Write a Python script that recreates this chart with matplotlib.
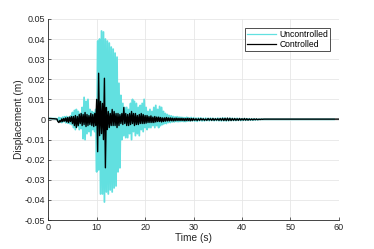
import numpy as np
import matplotlib
matplotlib.use("Agg")
import matplotlib.pyplot as plt

plt.rcParams['font.family'] = ['Liberation Sans', 'DejaVu Sans']

# displacement peaks in mm
# 0 - 30 s every 0.2 s, 30 - 45 s every 0.25 s, 45 - 60 s every 5 s
dt_a = 0.2
dt_b = 0.25
dt_c = 5.0

uncontrolled_a = [
    0.5, 0.5, 0.5, 0.4, 0.5, 0.5, 0.4, 0.5, 0.4, 0.3,
    -0.8, 1.0, -1.2, 0.8, -1.5, 1.2, -1.0, 1.4, -1.6, 1.5,
    -1.8, 1.2, -2.0, 1.8, -2.5,
    3.5, -4.0, 4.5, -5.0, 5.0, -3.5, 4.0, -5.0, 3.0, -4.5,
    6.0, -9.5, 11.0, -10.0, 9.0,
    -7.0, 10.0, -6.0, 5.0, -8.0,
    4.0, -5.0, 3.5, -6.0, 5.0,
    -26.0, 39.0, -25.0, 40.0, -37.0,
    44.0, -37.0, 43.5, -41.0, 40.0,
    -36.0, 39.0, -37.0, 38.0, -35.0,
    36.0, -36.0, 35.0, -34.0, 33.0,
    -33.0, 31.0, -26.0, 18.0, -24.0,
    12.0, -10.0, 8.0, -8.0, 6.0,
    -9.0, 6.0, -9.0, 5.0, -7.0,
    8.0, -10.0, 10.0, -6.0, 9.0,
    -8.0, 8.0, -7.0, 6.0, -8.0,
    7.0, -5.0, 8.0, -6.0, 10.0,
    -4.0, 6.0, -5.0, 4.0, -4.0,
    5.0, -4.0, 4.0, -3.0, 6.0,
    -4.0, 7.0, -3.0, 5.0, -4.0,
    6.5, -3.0, 6.0, -2.5, 4.0,
    -2.0, 3.0, -2.0, 2.5, -1.5,
    2.0, -1.5, 1.8, -1.2, 1.5,
    -1.2, 1.3, -1.0, 1.4, -1.1,
    1.2, -1.0, 1.1, -0.9, 1.0,
    -1.0, 0.9, -1.0, 1.1, -0.8,
]
uncontrolled_b = [
    0.9, -0.8, 1.0, -0.7, 0.9, -0.8, 0.7, -0.9, 0.8, -0.6,
    0.8, -0.7, 0.6, -0.7, 0.7, -0.5, 0.6, -0.6, 0.7, -0.5,
    0.6, -0.6, 0.5, -0.5, 0.7, -0.6, 0.6, -0.7, 0.8, -0.6,
    0.7, -0.7, 0.6, -0.6, 0.7, -0.5, 0.6, -0.5, 0.5, -0.5,
    0.6, -0.4, 0.5, -0.5, 0.4, -0.4, 0.5, -0.4, 0.4, -0.3,
    0.4, -0.3, 0.3, -0.3, 0.3, -0.2, 0.2, -0.1, 0.1, 0.1,
]
uncontrolled_c = [0.1, 0.1, 0.1, 0.1]

controlled_a = [
    0.5, 0.5, 0.5, 0.5, 0.4, 0.4, 0.4, 0.3, 0.3, 0.2,
    -1.0, -1.5, -0.5, -1.2, 0.3, -1.0, 0.5, -0.8, 0.8, -1.2,
    1.0, -1.5, 1.2, -1.0, 1.5,
    -2.0, 1.5, -3.0, 2.0, -4.0, 1.5, -3.0, 2.5, -2.0, 3.0,
    -3.0, 2.5, -2.5, 3.5, -3.5,
    2.5, -3.0, 2.0, -2.5, 3.0,
    -3.0, 2.5, -3.5, 3.0, -3.0,
    10.0, -16.0, 23.0, -8.0, 9.0,
    -7.0, 8.0, -10.0, 20.5, -24.0,
    6.0, -5.0, 4.0, -4.0, 3.0,
    -3.0, 5.0, -3.0, 4.0, -3.0,
    3.0, -4.0, 3.0, -3.0, 2.5,
    -2.0, 3.0, -2.5, 6.0, -2.0,
    3.0, -3.0, 2.5, -3.0, 3.0,
    -2.5, 4.0, -2.0, 3.0, -3.0,
    3.0, -2.5, 2.0, -2.5, 2.5,
    -2.0, 3.0, -2.0, 2.5, -2.0,
    2.0, -1.8, 2.0, -1.5, 1.5,
    -1.5, 1.8, -1.5, 1.2, -1.5,
    1.5, -1.2, 1.2, -1.0, 1.2,
    -1.0, 1.0, -1.2, 0.8, -1.0,
    0.8, -0.8, 1.0, -0.7, 0.8,
    -0.7, 0.8, -0.6, 0.7, -0.7,
    0.6, -0.6, 0.7, -0.5, 0.6,
    -0.5, 0.6, -0.5, 0.6, -0.5,
    0.5, -0.6, 0.5, -0.5, 0.6,
    -0.5, 0.5, -0.6, 0.5, -0.5,
]
controlled_b = [
    0.5, -0.4, 0.4, -0.5, 0.4, -0.4, 0.5, -0.3, 0.4, -0.4,
    0.3, -0.4, 0.5, -0.3, 0.4, -0.4, 0.5, -0.4, 0.4, -0.3,
    0.4, -0.4, 0.5, -0.4, 0.6, -0.5, 0.6, -0.5, 0.7, -0.5,
    0.6, -0.5, 0.5, -0.4, 0.5, -0.4, 0.4, -0.4, 0.5, -0.3,
    0.4, -0.3, 0.5, -0.3, 0.4, -0.3, 0.3, -0.2, 0.3, -0.2,
    0.3, -0.1, 0.3, -0.1, 0.2, 0.0, 0.2, 0.1, 0.2, 0.2,
]
controlled_c = [0.2, 0.2, 0.2, 0.2]

def series(*parts):
    t, x, start = [], [], 0.0
    for dt, vals in parts:
        t.append(start + np.arange(len(vals)) * dt)
        x.extend(vals)
        start += len(vals) * dt
    return np.concatenate(t), np.array(x) / 1000.0

t_u, x_u = series((dt_a, uncontrolled_a), (dt_b, uncontrolled_b),
                  (dt_c, uncontrolled_c))
t_c, x_c = series((dt_a, controlled_a), (dt_b, controlled_b),
                  (dt_c, controlled_c))

fig = plt.figure(figsize=(3.74, 2.49), dpi=100)
ax = fig.add_axes([0.129, 0.116, 0.777, 0.808])

txt = '#262626'
ax.plot(t_u, x_u, color='#62e0e0', lw=1.3, label='Uncontrolled')
ax.plot(t_c, x_c, color='black', lw=1.0, label='Controlled')

ax.set_xlim(0, 60)
ax.set_ylim(-0.05, 0.05)
ax.set_xticks([0, 10, 20, 30, 40, 50, 60])
ax.set_yticks(np.arange(-0.05, 0.051, 0.01))
ax.set_yticklabels(['-0.05', '-0.04', '-0.03', '-0.02', '-0.01', '0',
                    '0.01', '0.02', '0.03', '0.04', '0.05'])
ax.grid(True, color='#e6e6e6', lw=0.6)
ax.set_axisbelow(True)
for s in ['top', 'right']:
    ax.spines[s].set_visible(False)
for s in ['left', 'bottom']:
    ax.spines[s].set_color(txt)
    ax.spines[s].set_linewidth(0.6)
ax.tick_params(direction='in', length=2, width=0.5, colors=txt,
               labelsize=6.5, pad=2)

ax.set_xlabel('Time (s)', fontsize=7.3, color=txt, labelpad=1)
ax.set_ylabel('Displacement (m)', fontsize=7.3, color=txt, labelpad=1)

leg = ax.legend(loc='upper right', fontsize=6.2, frameon=True, fancybox=False,
                edgecolor='black', borderpad=0.25, handlelength=3.3,
                handletextpad=0.4, labelspacing=0.1,
                bbox_to_anchor=(0.985, 0.975))
leg.get_frame().set_linewidth(0.6)
for line in leg.get_lines():
    line.set_linewidth(0.9)

fig.savefig('out.png', dpi=100)
